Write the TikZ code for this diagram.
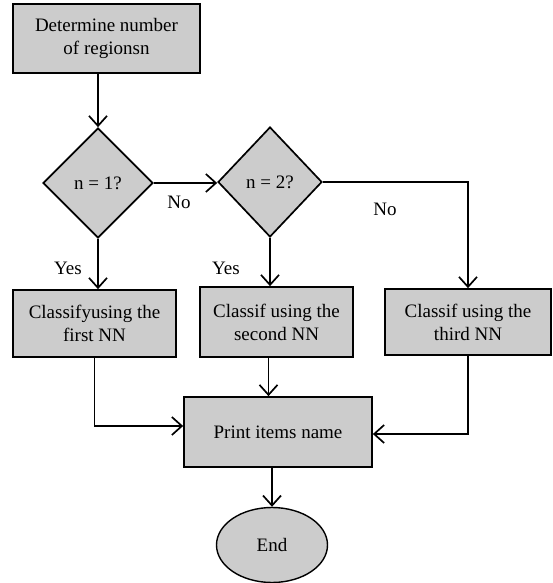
\documentclass[tikz,border=0pt]{standalone}
\usepackage{fontspec}
\setmainfont{Liberation Serif}
\usetikzlibrary{shapes.geometric,arrows.meta}
\definecolor{boxgray}{RGB}{204,204,204}
\begin{document}
\begin{tikzpicture}[x=1bp,y=-1bp,
  font=\fontsize{19bp}{23bp}\selectfont,
  box/.style={draw, fill=boxgray, line width=1.7bp, rectangle, inner sep=0pt, align=center},
  dec/.style={draw, fill=boxgray, diamond, line width=1.7bp, inner sep=0pt},
  term/.style={draw, fill=boxgray, ellipse, line width=1.4bp, inner sep=0pt},
  arr/.style={line width=1.7bp, -{Straight Barb[length=10bp,width=18bp]}},
  lbl/.style={inner sep=0pt}
]
\useasboundingbox (0,0) rectangle (553,583);
\node[box, minimum width=187bp, minimum height=69bp] (b1) at (106.5,38.5) {Determine number\\of regionsn};
\node[dec, minimum width=110bp, minimum height=110bp] (d1) at (98,183) {n = 1?};
\node[dec, minimum width=104bp, minimum height=110bp] (d2) at (270,182) {n = 2?};
\node[box, minimum width=163bp, minimum height=67bp] (c1) at (94.5,323.5) {Classifyusing the\\first NN};
\node[box, minimum width=153bp, minimum height=70bp] (c2) at (276.5,322) {Classif using the\\second NN};
\node[box, minimum width=166bp, minimum height=66bp] (c3) at (468,322) {Classif using the\\third NN};
\node[box, minimum width=188bp, minimum height=70bp] (p) at (278,432) {Print items name};
\node[term, minimum width=111bp, minimum height=75bp] (e) at (272,545) {End};

\draw[arr] (d1.north |- b1.south) -- (d1.north);
\draw[arr] (d1.east) -- (d1.east -| d2.west);
\draw[arr] (d1.south) -- (d1.south |- c1.north);
\draw[arr] (d2.south) -- (d2.south |- c2.north);
\draw[arr] (d2.east) -| (c3.north);
\draw[arr] (c1.south) |- ([yshift=6bp]p.west);
\draw[arr] (c3.south) |- ([yshift=-2bp]p.east);
\draw[arr] ([xshift=-8bp]c2.south) -- ([xshift=-8bp]c2.south |- p.north);
\draw[arr] (e.north |- p.south) -- (e.north);

\node[lbl] (no1) at (179,202) {No};
\node[lbl] (no2) at (385,209) {No};
\node[lbl] (yes1) at (68,268) {Yes};
\node[lbl] (yes2) at (226,268) {Yes};
\end{tikzpicture}
\end{document}
